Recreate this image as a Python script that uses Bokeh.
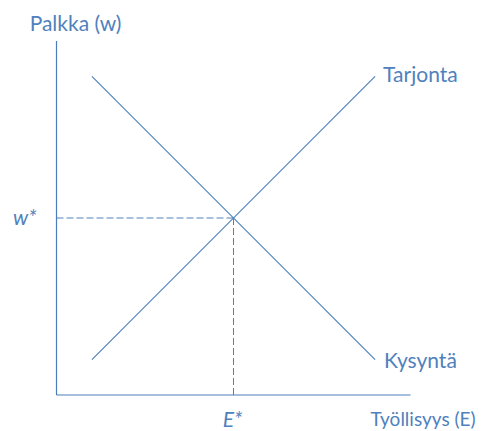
from bokeh.plotting import figure
from bokeh.models import Range1d
from bokeh.core.properties import value
from bokeh.embed import file_html
from bokeh.resources import INLINE

# Data (abstract units)
supply_E = [1, 9]
supply_w = [1, 9]
demand_E = [1, 9]
demand_w = [9, 1]
eq_E = 5
eq_w = 5
axis_max = 10

labels = {
    "y": "Palkka (w)",
    "x": "Työllisyys (E)",
    "supply": "Tarjonta",
    "demand": "Kysyntä",
    "w": "w*",
    "E": "E*",
}

BLUE = "#4a7ebb"
TEXT = "#4f81bd"
FONT = value("Lato")

u = 35.4
W, H = 485, 431
ox, oy = 56.0, H - 394.5  # origin px offsets within frame
p = figure(width=W, height=H, output_backend="svg", toolbar_location=None,
           x_range=Range1d(-ox / u, (W - ox) / u), y_range=Range1d(-oy / u, (H - oy) / u),
           min_border=0, outline_line_color=None)
p.axis.visible = False
p.grid.visible = False

# axes
p.line([0, 0], [0, axis_max], line_color=BLUE, line_width=1.2)
p.line([0, axis_max], [0, 0], line_color=BLUE, line_width=1.2)

# curves
p.line(supply_E, supply_w, line_color=BLUE, line_width=1.1)
p.line(demand_E, demand_w, line_color=BLUE, line_width=1.1)

# dashed guides
p.line([0, eq_E], [eq_w, eq_w], line_color=TEXT, line_width=1, line_dash="7 3")
p.line([eq_E, eq_E], [0, eq_w], line_color=TEXT, line_width=1, line_dash="7 3")

fs = "21px"
p.text(x=[0], y=[axis_max], text=[labels["y"]], text_font=FONT, text_font_size=fs,
       text_color=TEXT, text_align="center", text_baseline="middle", x_offset=19, y_offset=-19)
p.text(x=[axis_max], y=[0], text=[labels["x"]], text_font=FONT, text_font_size="19px",
       text_color=TEXT, text_align="left", text_baseline="middle", x_offset=-40, y_offset=23)
p.text(x=[supply_E[-1]], y=[supply_w[-1]], text=[labels["supply"]], text_font=FONT, text_font_size=fs,
       text_color=TEXT, text_align="left", text_baseline="middle", x_offset=8, y_offset=-3)
p.text(x=[demand_E[-1]], y=[demand_w[-1]], text=[labels["demand"]], text_font=FONT, text_font_size=fs,
       text_color=TEXT, text_align="left", text_baseline="middle", x_offset=9, y_offset=0)
p.text(x=[0], y=[eq_w], text=[labels["w"]], text_font=FONT, text_font_size=fs, text_font_style="italic",
       text_color=TEXT, text_align="right", text_baseline="middle", x_offset=-20, y_offset=-2)
p.text(x=[eq_E], y=[0], text=[labels["E"]], text_font=FONT, text_font_size=fs, text_font_style="italic",
       text_color=TEXT, text_align="center", text_baseline="middle", x_offset=-1, y_offset=23)

open("out.html", "w").write(file_html(p, INLINE))
